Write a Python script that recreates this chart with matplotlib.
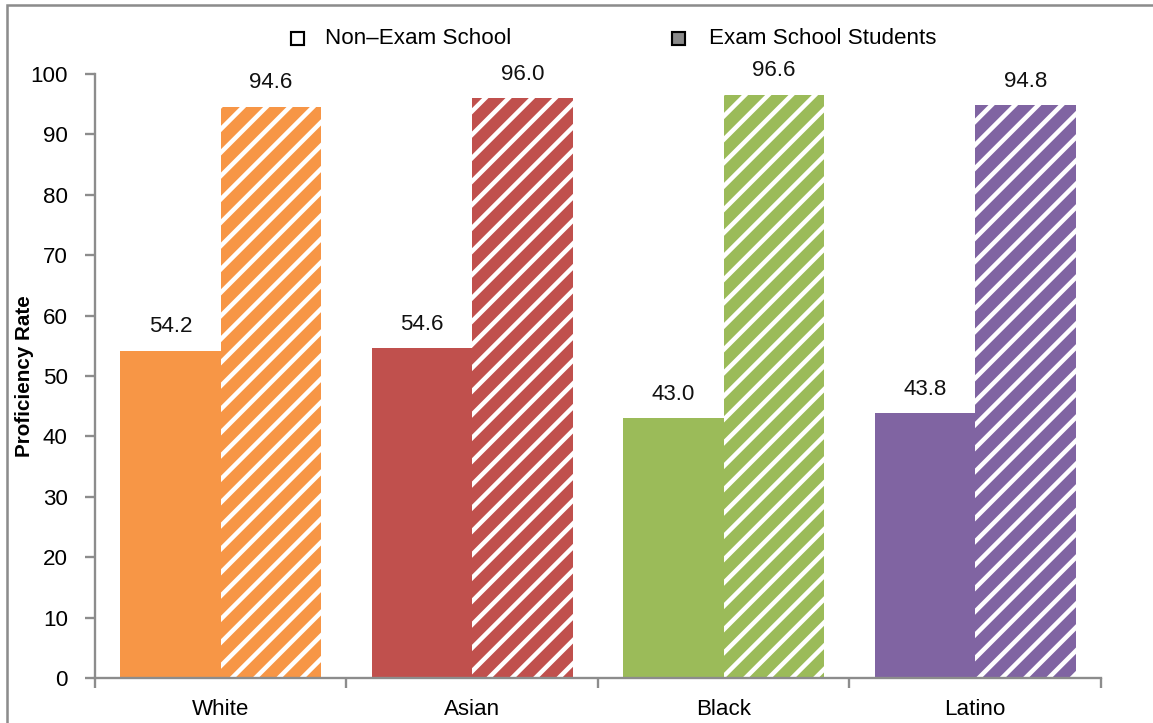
import matplotlib
matplotlib.use("Agg")
import matplotlib.pyplot as plt
import numpy as np
from matplotlib.patches import Rectangle

categories = ["White", "Asian", "Black", "Latino"]
non_exam = [54.2, 54.6, 43.0, 43.8]
exam = [94.6, 96.0, 96.6, 94.8]
colors = ["#F79646", "#C0504D", "#9BBB59", "#8064A2"]
series_names = ["Non\u2013Exam School", "Exam School Students"]
yticks = [0, 10, 20, 30, 40, 50, 60, 70, 80, 90, 100]

plt.rcParams['font.family'] = ['Liberation Sans', 'DejaVu Sans']
plt.rcParams['hatch.linewidth'] = 2.3
plt.rcParams['hatch.color'] = 'white'

DPI = 140
fig = plt.figure(figsize=(1154 / DPI, 723 / DPI), dpi=DPI)
W, H = 1154, 723
ax = fig.add_axes([95 / W, (H - 678) / H, (1101 - 95) / W, (678 - 74) / H])

x = np.arange(len(categories))
bw = 0.4
fs = 11.5
for i in range(len(categories)):
    ax.bar(x[i] - bw / 2, non_exam[i], width=bw, color=colors[i], linewidth=0)
    ax.bar(x[i] + bw / 2, exam[i], width=bw, color=colors[i], hatch='//',
           edgecolor='white', linewidth=0)
    ax.text(x[i] - bw / 2, non_exam[i] + 4, f"{non_exam[i]:.1f}", ha='center',
            va='center', fontsize=fs, color='#111111')
    ax.text(x[i] + bw / 2, exam[i] + 4, f"{exam[i]:.1f}", ha='center',
            va='center', fontsize=fs, color='#111111')

ax.set_xlim(-0.5, len(categories) - 0.5)
ax.set_ylim(0, 100)
ax.set_yticks(yticks)
ax.set_yticklabels([str(v) for v in yticks], fontsize=fs)
ax.set_xticks(np.arange(len(categories) + 1) - 0.5)
ax.set_xticklabels([])
ax.set_xticks(x, minor=True)
ax.set_xticklabels(categories, minor=True, fontsize=fs)
ax.tick_params(axis='x', which='minor', length=0, pad=11)
ax.tick_params(axis='x', which='major', length=5, color='#8c8c8c', width=1.2)
ax.tick_params(axis='y', length=5, color='#8c8c8c', width=1.2, pad=9)
for s in ['top', 'right']:
    ax.spines[s].set_visible(False)
for s in ['left', 'bottom']:
    ax.spines[s].set_color('#8c8c8c')
    ax.spines[s].set_linewidth(1.2)

ax.set_ylabel("Proficiency Rate", fontsize=10.6, fontweight='bold')
ax.yaxis.set_label_coords(-(95 - 34) / (1101 - 95), 0.5)

# legend
def fx(px):
    return px / W

def fy(py):
    return (H - py) / H

sq = 13
fig.patches.append(Rectangle((fx(291), fy(45)), sq / W, sq / H, transform=fig.transFigure,
                             facecolor='white', edgecolor='black', linewidth=1.1))
fig.patches.append(Rectangle((fx(672), fy(45)), sq / W, sq / H, transform=fig.transFigure,
                             facecolor='#8a8a8a', edgecolor='black', linewidth=1.1,
                             hatch='/'))
fig.text(fx(325), fy(38), series_names[0], fontsize=fs, va='center', ha='left')
fig.text(fx(709), fy(38), series_names[1], fontsize=fs, va='center', ha='left')

# outer frame (partially clipped)
fig.patches.append(Rectangle((fx(7), fy(760)), 1.2, (760 - 5) / H, transform=fig.transFigure,
                             facecolor='none', edgecolor='#8c8c8c', linewidth=1.3))

fig.savefig("out.png", dpi=DPI)
